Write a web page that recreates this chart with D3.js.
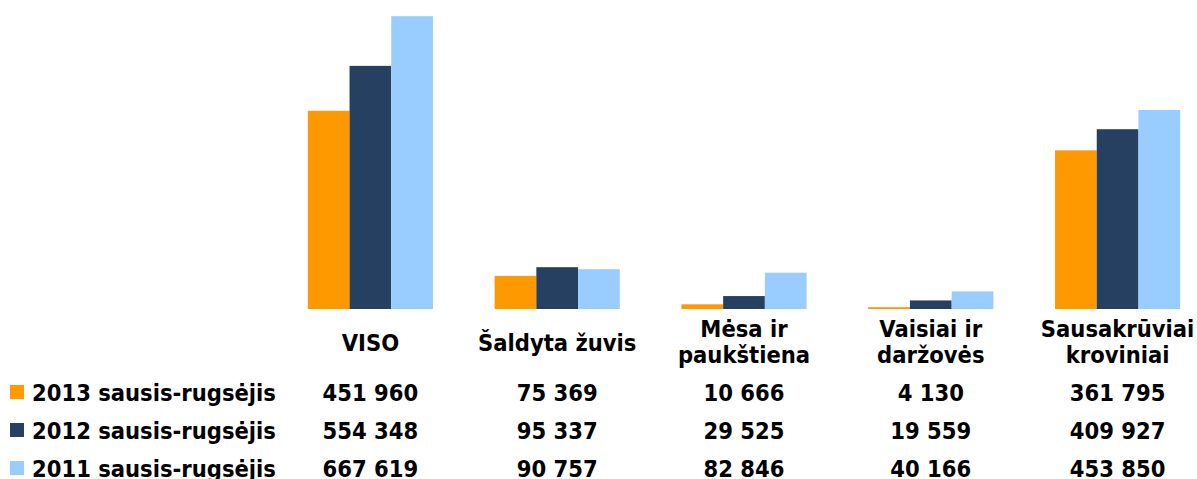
<!DOCTYPE html>
<html>
<head>
<meta charset="utf-8">
<script src="https://cdn.jsdelivr.net/npm/d3@7"></script>
<style>
  body { margin: 0; background: #fff; }
  svg { display: block; }
</style>
</head>
<body>
<svg width="1197" height="479"></svg>
<script>
const categories = ["VISO", "Šaldyta žuvis", "Mėsa ir paukštiena", "Vaisiai ir daržovės", "Sausakrūviai kroviniai"];
const categoryLines = [["VISO"], ["Šaldyta žuvis"], ["Mėsa ir", "paukštiena"], ["Vaisiai ir", "daržovės"], ["Sausakrūviai", "kroviniai"]];
const seriesNames = ["2013 sausis-rugsėjis", "2012 sausis-rugsėjis", "2011 sausis-rugsėjis"];
const values2013 = [451960, 75369, 10666, 4130, 361795];
const values2012 = [554348, 95337, 29525, 19559, 409927];
const values2011 = [667619, 90757, 82846, 40166, 453850];
const seriesValues = [values2013, values2012, values2011];
const colors = ["#ff9900", "#264061", "#99ccff"];

const svg = d3.select("svg")
  .attr("font-family", "'DejaVu Sans Condensed', 'DejaVu Sans', Verdana, sans-serif")
  .attr("font-weight", "bold")
  .attr("font-stretch", "condensed");

const fontSize = 23.5;
const baseline = 309;

const x0 = d3.scaleBand()
  .domain(categories)
  .range([277, 1211])
  .paddingInner(0.33)
  .paddingOuter(0.165);

const x1 = d3.scaleBand()
  .domain(seriesNames)
  .range([0, x0.bandwidth()]);

const y = d3.scaleLinear()
  .domain([0, 700000])
  .range([baseline, 2]);

const color = d3.scaleOrdinal().domain(seriesNames).range(colors);

// bars
const groups = svg.append("g")
  .selectAll("g")
  .data(categories)
  .join("g")
  .attr("transform", (d) => `translate(${x0(d)},0)`);

groups.selectAll("rect")
  .data((d, i) => seriesNames.map((s, j) => ({ s, v: seriesValues[j][i] })))
  .join("rect")
  .attr("x", (d) => x1(d.s))
  .attr("y", (d) => y(d.v))
  .attr("width", x1.bandwidth())
  .attr("height", (d) => baseline - y(d.v))
  .attr("fill", (d) => color(d.s));

// category labels
const catLabels = svg.append("g")
  .selectAll("text")
  .data(categories)
  .join("text")
  .attr("text-anchor", "middle")
  .attr("font-size", fontSize)
  .attr("fill", "#000");

catLabels.each(function (d, i) {
  const lines = categoryLines[i];
  const el = d3.select(this);
  const cx = x0(d) + x0.bandwidth() / 2;
  lines.forEach((ln, k) => {
    const yy = lines.length === 1 ? 351 : 337 + k * 26;
    el.append("tspan").attr("x", cx).attr("y", yy).text(ln);
  });
});

// data table
const rowY = [401, 439, 477];
const fmt = (v) => d3.format(",")(v).replace(/,/g, " ");

seriesNames.forEach((s, j) => {
  const row = svg.append("g");
  row.append("rect")
    .attr("x", 10)
    .attr("y", rowY[j] - 16)
    .attr("width", 14)
    .attr("height", 14)
    .attr("fill", color(s));
  row.append("text")
    .attr("x", 32)
    .attr("y", rowY[j])
    .attr("font-size", fontSize)
    .text(s);
  row.selectAll("text.val")
    .data(categories)
    .join("text")
    .attr("class", "val")
    .attr("x", (d) => x0(d) + x0.bandwidth() / 2)
    .attr("y", rowY[j])
    .attr("text-anchor", "middle")
    .attr("font-size", fontSize)
    .text((d, i) => fmt(seriesValues[j][i]));
});
</script>
</body>
</html>
